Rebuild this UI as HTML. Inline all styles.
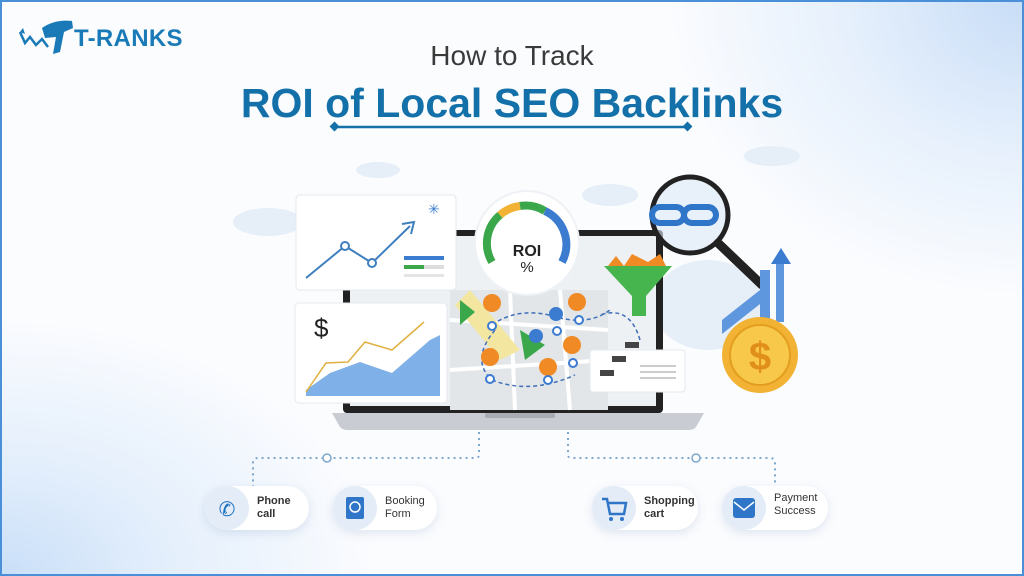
<!DOCTYPE html>
<html><head><meta charset="utf-8"><style>
html,body{margin:0;padding:0}
body{width:1024px;height:576px;overflow:hidden;position:relative;font-family:"Liberation Sans",sans-serif;
background:radial-gradient(ellipse 380px 260px at 0% 100%,#c9dff8 0%,#e4effc 45%,rgba(255,255,255,0) 100%),
radial-gradient(ellipse 360px 300px at 100% 0%,#c8ddf7 0%,#e6f0fc 50%,rgba(255,255,255,0) 100%),#fbfcfe;}
.frame{position:absolute;left:0;top:0;width:1020px;height:572px;border:2px solid #4a90d9;}
.t{position:absolute;white-space:nowrap}
.pill{position:absolute;height:44px;border-radius:22px;background:#fff;box-shadow:0 3px 10px rgba(60,100,160,.15)}
.pill .ic{position:absolute;left:0;top:0;width:44px;height:44px;border-radius:22px;background:#e3ecf7}
.pill .lb{position:absolute;left:52px;top:9px;font-size:11px;font-weight:bold;color:#333;line-height:13px}
</style></head><body>
<div class="frame"></div>
<svg width="1024" height="576" style="position:absolute;left:0;top:0">
<!-- logo -->
<path d="M20 32 L25 43 L30 37 L36 45 L42 39 L48 47" stroke="#1a7ab8" stroke-width="2.5" fill="none"/>
<path d="M20 32 L23 28 L25 34Z" fill="#1a7ab8"/>
<path d="M42 28 Q55 19 72 21 L73 28 L64 32 L60 52 L53 54 L56 37 L45 38 Z" fill="#1a7ab8"/>
<!-- clouds -->
<g fill="#e6eef8">
<ellipse cx="268" cy="222" rx="35" ry="14"/><ellipse cx="610" cy="195" rx="28" ry="11"/><ellipse cx="772" cy="156" rx="28" ry="10"/><ellipse cx="378" cy="170" rx="22" ry="8"/>
<ellipse cx="708" cy="305" rx="55" ry="45"/>
</g>
<!-- title underline -->
<line x1="338" y1="127" x2="686" y2="127" stroke="#1370a8" stroke-width="2.5"/>
<rect x="331" y="123" width="7" height="7" transform="rotate(45 334.5 126.5)" fill="#1370a8"/>
<rect x="684" y="123" width="7" height="7" transform="rotate(45 687.5 126.5)" fill="#1370a8"/>
<!-- laptop -->
<rect x="343" y="230" width="320" height="183" rx="4" fill="#222"/>
<rect x="350" y="236" width="306" height="170" fill="#eef1f4"/>
<path d="M332 413 L704 413 L696 427 Q694 430 688 430 L348 430 Q342 430 340 427 Z" fill="#c9cdd3"/>
<rect x="485" y="413" width="70" height="5" rx="2" fill="#a9adb3"/>
<!-- map -->
<rect x="450" y="290" width="158" height="120" fill="#e3e6e9"/>
<g stroke="#fff" stroke-width="4"><line x1="450" y1="320" x2="608" y2="330"/><line x1="450" y1="370" x2="608" y2="360"/><line x1="510" y1="290" x2="515" y2="410"/><line x1="560" y1="290" x2="570" y2="410"/></g>
<path d="M470 290 L520 350 L500 360 L455 305Z" fill="#f3e6a0"/>
<path d="M460 300 L475 312 L460 325Z" fill="#3aa84a"/><path d="M520 330 L545 345 L525 360Z" fill="#3aa84a"/>
<path d="M492 325 Q520 305 560 318 Q590 325 610 310 M492 380 Q530 395 575 375 M495 330 Q470 360 492 380 M640 340 Q630 305 600 315" stroke="#3f6fb8" stroke-width="1.5" stroke-dasharray="4 3" fill="none"/>
<g fill="#f08a24">
<circle cx="492" cy="303" r="9"/><circle cx="577" cy="302" r="9"/><circle cx="490" cy="357" r="9"/><circle cx="572" cy="345" r="9"/><circle cx="548" cy="367" r="9"/>
</g>
<g fill="#3b7bd0"><circle cx="556" cy="314" r="7"/><circle cx="536" cy="336" r="7"/></g>
<g fill="#fff" stroke="#3b7bd0" stroke-width="2"><circle cx="492" cy="326" r="4"/><circle cx="579" cy="320" r="4"/><circle cx="490" cy="379" r="4"/><circle cx="548" cy="380" r="4"/><circle cx="573" cy="363" r="4"/><circle cx="557" cy="331" r="4"/></g>
<!-- top-left card -->
<rect x="296" y="195" width="160" height="95" rx="4" fill="#fff" stroke="#e4e8ee"/>
<polyline points="306,278 345,246 372,263 410,226" stroke="#3f7fbf" stroke-width="2" fill="none"/>
<path d="M402 224 L414 222 L411 234" stroke="#3f7fbf" stroke-width="2" fill="none"/>
<circle cx="345" cy="246" r="4" fill="#fff" stroke="#3f7fbf" stroke-width="2"/><circle cx="372" cy="263" r="4" fill="#fff" stroke="#3f7fbf" stroke-width="2"/>
<rect x="404" y="256" width="40" height="4" fill="#3b7bd0"/><rect x="404" y="265" width="20" height="4" fill="#3aa84a"/><rect x="424" y="265" width="20" height="4" fill="#ddd"/><rect x="404" y="274" width="40" height="3" fill="#e4e4e4"/>
<text x="428" y="214" font-size="14" fill="#3b7bd0">✳</text>
<!-- bottom-left card -->
<rect x="295" y="303" width="152" height="100" rx="4" fill="#fff" stroke="#e4e8ee"/>
<path d="M306 395 L306 390 L330 373 L360 362 L392 373 L430 340 L440 335 L440 396 L306 396Z" fill="#7fb1e8"/>
<polyline points="306,392 326,363 348,362 365,342 392,350 424,322" stroke="#e0b040" stroke-width="1.5" fill="none"/>
<text x="314" y="337" font-size="26" fill="#222">$</text>
<!-- ROI gauge -->
<circle cx="527" cy="243" r="52" fill="#fff" stroke="#eef1f5" stroke-width="2"/>
<path d="M492 262 A37 37 0 0 1 500 215" stroke="#3aa84a" stroke-width="8" fill="none"/>
<path d="M500 215 A37 37 0 0 1 520 206" stroke="#f2b233" stroke-width="8" fill="none"/>
<path d="M520 206 A37 37 0 0 1 545 211" stroke="#3aa84a" stroke-width="8" fill="none"/>
<path d="M545 211 A37 37 0 0 1 562 262" stroke="#3b7bd0" stroke-width="8" fill="none"/>
<text x="527" y="256" font-size="16" font-weight="bold" fill="#222" text-anchor="middle">ROI</text>
<text x="527" y="272" font-size="15" fill="#222" text-anchor="middle">%</text>
<!-- funnel -->
<path d="M608 266 L616 256 L624 266 L632 254 L648 262 L660 254 L666 266Z" fill="#f08a24"/>
<path d="M604 266 L672 266 L646 296 L646 316 L632 316 L632 296Z" fill="#46b54d"/>
<!-- small card -->
<rect x="590" y="350" width="95" height="42" rx="3" fill="#fff" stroke="#e4e8ee"/>
<g fill="#444"><rect x="625" y="342" width="14" height="6"/><rect x="612" y="356" width="14" height="6"/><rect x="600" y="370" width="14" height="6"/></g>
<g fill="#ccc"><rect x="640" y="365" width="36" height="2"/><rect x="640" y="371" width="36" height="2"/><rect x="640" y="377" width="36" height="2"/></g>
<!-- magnifier -->
<line x1="718" y1="243" x2="762" y2="285" stroke="#222" stroke-width="9" stroke-linecap="round"/>
<circle cx="690" cy="215" r="38" fill="rgba(220,232,245,.6)" stroke="#222" stroke-width="5"/>
<rect x="652" y="207" width="32" height="16" rx="8" fill="none" stroke="#2f75c8" stroke-width="6"/>
<rect x="684" y="207" width="32" height="16" rx="8" fill="none" stroke="#2f75c8" stroke-width="6"/>
<!-- growth bars -->
<g fill="#5e97dd"><polygon points="722,320 760,290 760,304 722,334"/><rect x="760" y="270" width="10" height="60"/><rect x="776" y="262" width="8" height="60"/></g>
<path d="M781 248 L771 264 L791 264Z" fill="#3b7bd0"/>
<!-- coin -->
<circle cx="760" cy="355" r="38" fill="#f2b233"/><circle cx="760" cy="355" r="30" fill="#f7c84a" stroke="#e39d1f" stroke-width="2"/>
<text x="760" y="370" font-size="40" font-weight="bold" fill="#e0901a" text-anchor="middle">$</text>
<!-- connectors -->
<g stroke="#7ea7cc" stroke-width="2" stroke-dasharray="2 4" fill="none">
<path d="M479 432 L479 455 Q479 458 475 458 L258 458 Q253 458 253 463 L253 486"/>
<path d="M568 432 L568 455 Q568 458 572 458 L770 458 Q775 458 775 463 L775 486"/>
</g>
<circle cx="327" cy="458" r="4" fill="#fff" stroke="#7ea7cc" stroke-width="1.5"/>
<circle cx="696" cy="458" r="4" fill="#fff" stroke="#7ea7cc" stroke-width="1.5"/>
</svg>
<div class="t" style="left:74px;top:25px;font-size:24px;font-weight:bold;color:#1a7ab8;letter-spacing:0.3px">T-RANKS</div>
<div class="t" style="left:0;width:1024px;text-align:center;top:40px;font-size:28px;color:#3a3a3a">How to Track</div>
<div class="t" style="left:0;width:1024px;text-align:center;top:80px;font-size:41px;font-weight:bold;color:#1370a8">ROI of Local SEO Backlinks</div>
<div class="pill" style="left:205px;top:486px;width:104px"><div class="ic"><svg width="44" height="44"><text x="22" y="30" font-size="20" fill="#1a6fc0" text-anchor="middle">✆</text></svg></div><div class="lb">Phone<br>call</div></div>
<div class="pill" style="left:333px;top:486px;width:104px"><div class="ic"><svg width="44" height="44"><rect x="13" y="11" width="18" height="22" rx="2" fill="#2f75c8"/><circle cx="22" cy="21" r="5" fill="none" stroke="#fff" stroke-width="1.5"/></svg></div><div class="lb" style="font-weight:normal">Booking<br>Form</div></div>
<div class="pill" style="left:592px;top:486px;width:106px"><div class="ic"><svg width="44" height="44"><path d="M10 13 L15 13 L18 28 L32 28 L34 17 L16 17" stroke="#2f75c8" stroke-width="2.5" fill="none"/><circle cx="19" cy="33" r="2" fill="#2f75c8"/><circle cx="30" cy="33" r="2" fill="#2f75c8"/></svg></div><div class="lb">Shopping<br>cart</div></div>
<div class="pill" style="left:722px;top:486px;width:106px"><div class="ic"><svg width="44" height="44"><rect x="11" y="12" width="22" height="20" rx="3" fill="#2f75c8"/><path d="M12 16 L22 24 L32 16" stroke="#fff" stroke-width="1.5" fill="none"/></svg></div><div class="lb" style="font-weight:normal;top:6px">Payment<br>Success</div></div>
</body></html>
